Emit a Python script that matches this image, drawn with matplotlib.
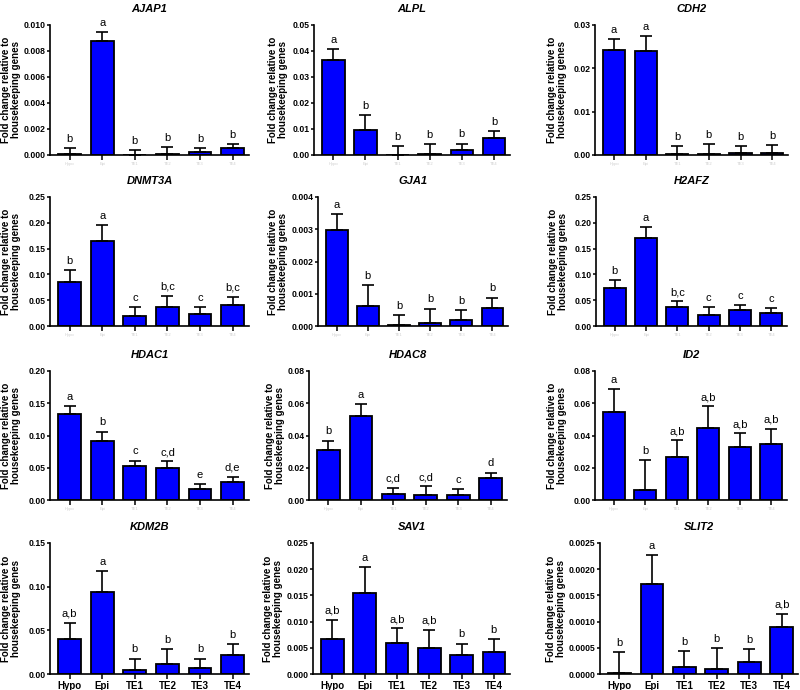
import matplotlib
matplotlib.use("Agg")
import matplotlib.pyplot as plt
from matplotlib.ticker import FixedLocator

plt.rcParams['font.family'] = ['Liberation Sans', 'DejaVu Sans']

groups = ["Hypo", "Epi", "TE1", "TE2", "TE3", "TE4"]

genes = ["AJAP1", "ALPL", "CDH2", "DNMT3A", "GJA1", "H2AFZ",
         "HDAC1", "HDAC8", "ID2", "KDM2B", "SAV1", "SLIT2"]

# means (bar heights)
AJAP1_mean = [0.00004, 0.00876, 0.00003, 0.0001, 0.0002, 0.00052]
ALPL_mean = [0.0365, 0.0096, 0.0001, 0.0003, 0.0018, 0.0066]
CDH2_mean = [0.0242, 0.0241, 0.0002, 0.0002, 0.0005, 0.0005]
DNMT3A_mean = [0.0846, 0.165, 0.020, 0.037, 0.023, 0.041]
GJA1_mean = [0.00298, 0.00062, 0.00003, 0.0001, 0.0002, 0.00057]
H2AFZ_mean = [0.073, 0.171, 0.037, 0.021, 0.031, 0.025]
HDAC1_mean = [0.134, 0.0915, 0.053, 0.050, 0.0175, 0.028]
HDAC8_mean = [0.031, 0.0523, 0.0035, 0.0033, 0.0033, 0.0134]
ID2_mean = [0.0548, 0.0062, 0.0267, 0.0449, 0.0329, 0.0349]
KDM2B_mean = [0.0403, 0.0944, 0.0042, 0.011, 0.0065, 0.0215]
SAV1_mean = [0.00667, 0.0155, 0.0059, 0.0049, 0.0036, 0.0042]
SLIT2_mean = [0.00001, 0.00172, 0.000135, 0.0001, 0.00022, 0.00089]

# top of the error bars (mean + SEM)
AJAP1_top = [0.00055, 0.00948, 0.00041, 0.0006, 0.00052, 0.00085]
ALPL_top = [0.0407, 0.0153, 0.0033, 0.0041, 0.0044, 0.0093]
CDH2_top = [0.0268, 0.0275, 0.0020, 0.0025, 0.0021, 0.0022]
DNMT3A_top = [0.108, 0.196, 0.037, 0.058, 0.037, 0.057]
GJA1_top = [0.00347, 0.00126, 0.00035, 0.00054, 0.0005, 0.00088]
H2AFZ_top = [0.089, 0.192, 0.048, 0.036, 0.040, 0.035]
HDAC1_top = [0.145, 0.106, 0.061, 0.060, 0.0247, 0.036]
HDAC8_top = [0.0368, 0.0595, 0.0074, 0.0085, 0.0066, 0.017]
ID2_top = [0.0688, 0.0248, 0.037, 0.058, 0.0413, 0.0442]
KDM2B_top = [0.0583, 0.118, 0.0176, 0.0288, 0.0176, 0.0338]
SAV1_top = [0.0104, 0.0204, 0.0087, 0.0084, 0.0058, 0.0067]
SLIT2_top = [0.00042, 0.00227, 0.00044, 0.00049, 0.00047, 0.00115]

# significance letters
AJAP1_sig = ["b", "a", "b", "b", "b", "b"]
ALPL_sig = ["a", "b", "b", "b", "b", "b"]
CDH2_sig = ["a", "a", "b", "b", "b", "b"]
DNMT3A_sig = ["b", "a", "c", "b,c", "c", "b,c"]
GJA1_sig = ["a", "b", "b", "b", "b", "b"]
H2AFZ_sig = ["b", "a", "b,c", "c", "c", "c"]
HDAC1_sig = ["a", "b", "c", "c,d", "e", "d,e"]
HDAC8_sig = ["b", "a", "c,d", "c,d", "c", "d"]
ID2_sig = ["a", "b", "a,b", "a,b", "a,b", "a,b"]
KDM2B_sig = ["a,b", "a", "b", "b", "b", "b"]
SAV1_sig = ["a,b", "a", "a,b", "a,b", "b", "b"]
SLIT2_sig = ["b", "a", "b", "b", "b", "a,b"]

# y-axis maxima and tick step
AJAP1_y = (0.010, 0.002, "%.3f")
ALPL_y = (0.05, 0.01, "%.2f")
CDH2_y = (0.03, 0.01, "%.2f")
DNMT3A_y = (0.25, 0.05, "%.2f")
GJA1_y = (0.004, 0.001, "%.3f")
H2AFZ_y = (0.25, 0.05, "%.2f")
HDAC1_y = (0.20, 0.05, "%.2f")
HDAC8_y = (0.08, 0.02, "%.2f")
ID2_y = (0.08, 0.02, "%.2f")
KDM2B_y = (0.15, 0.05, "%.2f")
SAV1_y = (0.025, 0.005, "%.3f")
SLIT2_y = (0.0025, 0.0005, "%.4f")

means = [AJAP1_mean, ALPL_mean, CDH2_mean, DNMT3A_mean, GJA1_mean, H2AFZ_mean,
         HDAC1_mean, HDAC8_mean, ID2_mean, KDM2B_mean, SAV1_mean, SLIT2_mean]
tops = [AJAP1_top, ALPL_top, CDH2_top, DNMT3A_top, GJA1_top, H2AFZ_top,
        HDAC1_top, HDAC8_top, ID2_top, KDM2B_top, SAV1_top, SLIT2_top]
sigs = [AJAP1_sig, ALPL_sig, CDH2_sig, DNMT3A_sig, GJA1_sig, H2AFZ_sig,
        HDAC1_sig, HDAC8_sig, ID2_sig, KDM2B_sig, SAV1_sig, SLIT2_sig]
yinfo = [AJAP1_y, ALPL_y, CDH2_y, DNMT3A_y, GJA1_y, H2AFZ_y,
         HDAC1_y, HDAC8_y, ID2_y, KDM2B_y, SAV1_y, SLIT2_y]

# layout in pixels (left, right) per panel, (top, bottom) per row
W, H = 800, 690
lefts = [50, 314, 595, 50, 318, 596, 50, 309, 595, 50, 313, 600]
rights = [249, 510, 788, 249, 508, 787, 249, 507, 787, 249, 510, 798]
label_right = [21, 288, 567, 21, 288, 568, 21, 285, 567, 21, 283, 566]
rows = [(25, 155), (197, 326), (371, 500), (543, 674)]

fig = plt.figure(figsize=(W / 100, H / 100), dpi=100)
fig.patch.set_facecolor("white")

x = list(range(len(groups)))
for i, g in enumerate(genes):
    r = i // 3
    top_px, bot_px = rows[r]
    l, rr = lefts[i], rights[i]
    ax = fig.add_axes([l / W, 1 - bot_px / H, (rr - l) / W, (bot_px - top_px) / H])
    m = means[i]
    t = tops[i]
    err_up = [tt - mm for tt, mm in zip(t, m)]
    ax.bar(x, m, width=0.7, color="#0000ff", edgecolor="black", linewidth=1.3, zorder=2)
    ax.errorbar(x, m, yerr=[[0] * len(m), err_up], fmt="none", ecolor="black",
                elinewidth=1.2, capsize=4, capthick=1.2, zorder=3)
    ymax, step, fmt = yinfo[i]
    ax.set_ylim(0, ymax)
    ax.set_xlim(-0.6, 5.5)
    nt = int(round(ymax / step))
    ticks = [k * step for k in range(nt + 1)]
    ax.yaxis.set_major_locator(FixedLocator(ticks))
    ax.set_yticklabels([fmt % v for v in ticks], fontsize=6.2, fontweight="bold")
    ax.set_xticks(x)
    if r == 3:
        ax.set_xticklabels(groups, fontsize=7, fontweight="bold")
    else:
        ax.set_xticklabels(groups, fontsize=3, color="#cfcfcf")
    for s in ["top", "right"]:
        ax.spines[s].set_visible(False)
    for s in ["left", "bottom"]:
        ax.spines[s].set_linewidth(1.2)
    ax.tick_params(axis="y", direction="out", length=2.5, width=1.1, pad=0.6)
    ax.tick_params(axis="x", direction="out", length=3.5, width=1.1, pad=1.5)
    ax.set_title(g, fontsize=8, fontweight="bold", style="italic", pad=9)
    ax.set_ylabel("Fold change relative to\nhousekeeping genes", fontsize=7,
                  fontweight="bold", linespacing=1.0)
    ax.yaxis.set_label_coords((label_right[i] - l) / (rr - l), 0.5)
    for xi, tt, s in zip(x, t, sigs[i]):
        ax.annotate(s, (xi, tt), xytext=(0, 3), textcoords="offset points",
                    ha="center", va="bottom", fontsize=8, annotation_clip=False)

fig.savefig("out.png", dpi=100, facecolor="white")
